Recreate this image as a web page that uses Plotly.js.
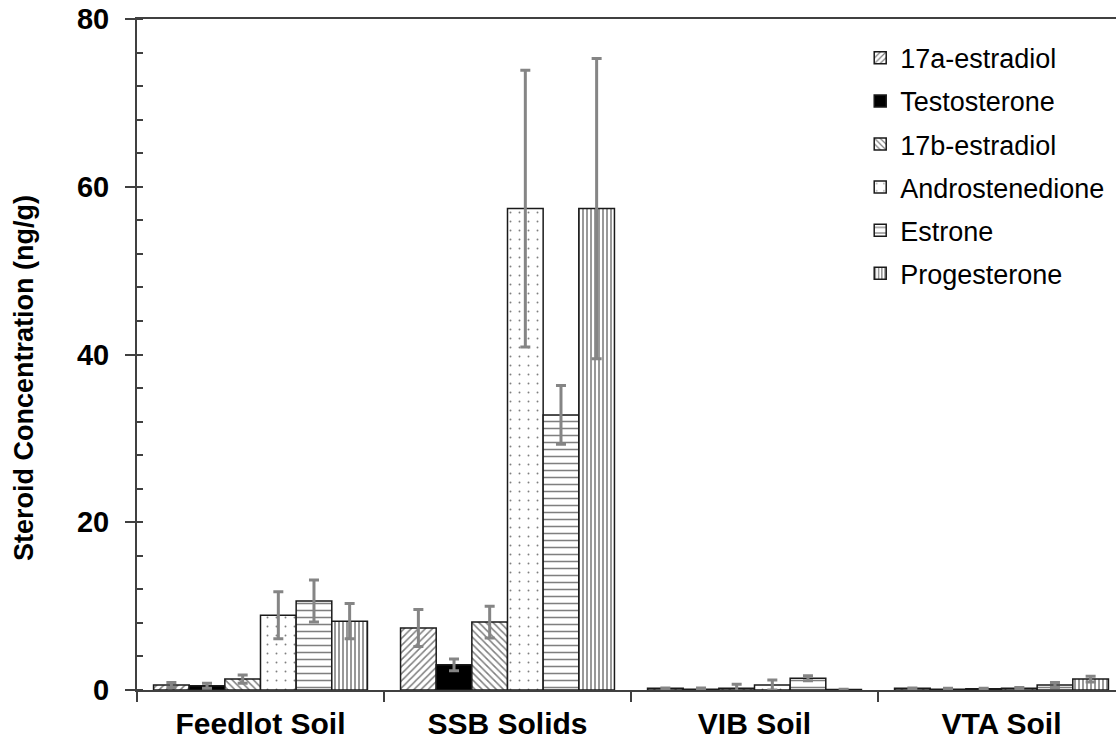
<!DOCTYPE html>
<html>
<head>
<meta charset="utf-8">
<script src="https://cdn.plot.ly/plotly-3.0.1.min.js"></script>
<style>
  html, body { margin: 0; padding: 0; overflow: hidden; background: #fff; }
  #chart { width: 1126px; height: 746px; }
</style>
</head>
<body>
<div id="chart"></div>
<script>
// Sampling sites
const sites = ['Feedlot Soil', 'SSB Solids', 'VIB Soil', 'VTA Soil'];

// Mean steroid concentrations (ng/g) and their error-bar half-widths
const estradiol17a = [0.6, 7.4, 0.2, 0.2];
const estradiol17aErr = [0.3, 2.2, 0.05, 0.05];

const testosterone = [0.5, 3.0, 0.1, 0.1];
const testosteroneErr = [0.3, 0.7, 0.15, 0.1];

const estradiol17b = [1.3, 8.1, 0.2, 0.15];
const estradiol17bErr = [0.5, 1.9, 0.5, 0.05];

const androstenedione = [8.9, 57.4, 0.6, 0.2];
const androstenedioneErr = [2.8, 16.5, 0.6, 0.1];

const estrone = [10.6, 32.8, 1.4, 0.6];
const estroneErr = [2.5, 3.5, 0.3, 0.3];

const progesterone = [8.2, 57.4, 0.05, 1.3];
const progesteroneErr = [2.1, 17.9, 0.05, 0.35];

const yTicks = [0, 20, 40, 60, 80];

const FONT = 'Liberation Sans, Arial, Helvetica, sans-serif';

function barTrace(name, values, errs, pattern, solid) {
  return {
    type: 'bar',
    name: name,
    x: sites,
    y: values,
    legendgroup: name,
    marker: {
      color: solid ? '#000000' : '#ffffff',
      line: { color: '#1a1a1a', width: 1.5 },
      pattern: pattern
    },
    error_y: {
      type: 'data',
      array: errs,
      visible: true,
      color: '#858585',
      thickness: 3,
      width: 5
    }
  };
}

const traces = [
  barTrace('17a-estradiol', estradiol17a, estradiol17aErr,
    { shape: '/', fgcolor: '#000', bgcolor: '#fff', size: 5, solidity: 0.3, fillmode: 'overlay' }),
  barTrace('Testosterone', testosterone, testosteroneErr, { shape: '' }, true),
  barTrace('17b-estradiol', estradiol17b, estradiol17bErr,
    { shape: '\\', fgcolor: '#000', bgcolor: '#fff', size: 5, solidity: 0.3, fillmode: 'overlay' }),
  barTrace('Androstenedione', androstenedione, androstenedioneErr,
    { shape: '.', fgcolor: '#000', bgcolor: '#fff', size: 9, solidity: 0.035, fillmode: 'overlay' }),
  barTrace('Estrone', estrone, estroneErr,
    { shape: '-', fgcolor: '#000', bgcolor: '#fff', size: 7, solidity: 0.22, fillmode: 'overlay' }),
  barTrace('Progesterone', progesterone, progesteroneErr,
    { shape: '|', fgcolor: '#000', bgcolor: '#fff', size: 4, solidity: 0.4, fillmode: 'overlay' })
];

const layout = {
  width: 1126,
  height: 746,
  margin: { l: 137, r: 1, t: 19, b: 56, pad: 0 },
  paper_bgcolor: '#ffffff',
  plot_bgcolor: '#ffffff',
  barmode: 'group',
  bargap: 0.134,
  bargroupgap: 0,
  font: { family: FONT, color: '#000' },
  showlegend: true,
  legend: {
    x: 0.732,
    y: 0.978,
    xanchor: 'left',
    yanchor: 'top',
    traceorder: 'grouped',
    tracegroupgap: 5,
    bgcolor: 'rgba(0,0,0,0)',
    font: { family: FONT, size: 27, color: '#000' }
  },
  xaxis: {
    type: 'category',
    showgrid: false,
    zeroline: false,
    showline: true,
    linecolor: '#404040',
    linewidth: 2,
    mirror: true,
    ticks: 'outside',
    tickson: 'boundaries',
    ticklen: 10,
    tickwidth: 2,
    tickcolor: '#404040',
    ticklabelstandoff: 6,
    tickfont: { family: FONT, size: 30, weight: 'bold', color: '#000' },
    fixedrange: true
  },
  yaxis: {
    range: [0, 80],
    tickvals: yTicks,
    ticktext: yTicks.map(String),
    showgrid: false,
    zeroline: false,
    showline: true,
    linecolor: '#404040',
    linewidth: 2,
    ticks: 'outside',
    ticklen: 10,
    tickwidth: 2,
    tickcolor: '#404040',
    ticklabelstandoff: 10,
    tickfont: { family: FONT, size: 29, weight: 'bold', color: '#000' },
    minor: { ticks: 'inside', dtick: 4, ticklen: 6, tickwidth: 2, tickcolor: '#404040', showgrid: false },
    fixedrange: true
  },
  annotations: [{
    text: 'Steroid Concentration (ng/g)',
    xref: 'paper', yref: 'paper',
    x: -113 / 988, y: 0.465,
    xanchor: 'center', yanchor: 'middle',
    textangle: -90,
    showarrow: false,
    font: { family: FONT, size: 27, weight: 'bold', color: '#000' }
  }]
};

Plotly.newPlot('chart', traces, layout, { displayModeBar: false, staticPlot: true });
</script>
</body>
</html>
